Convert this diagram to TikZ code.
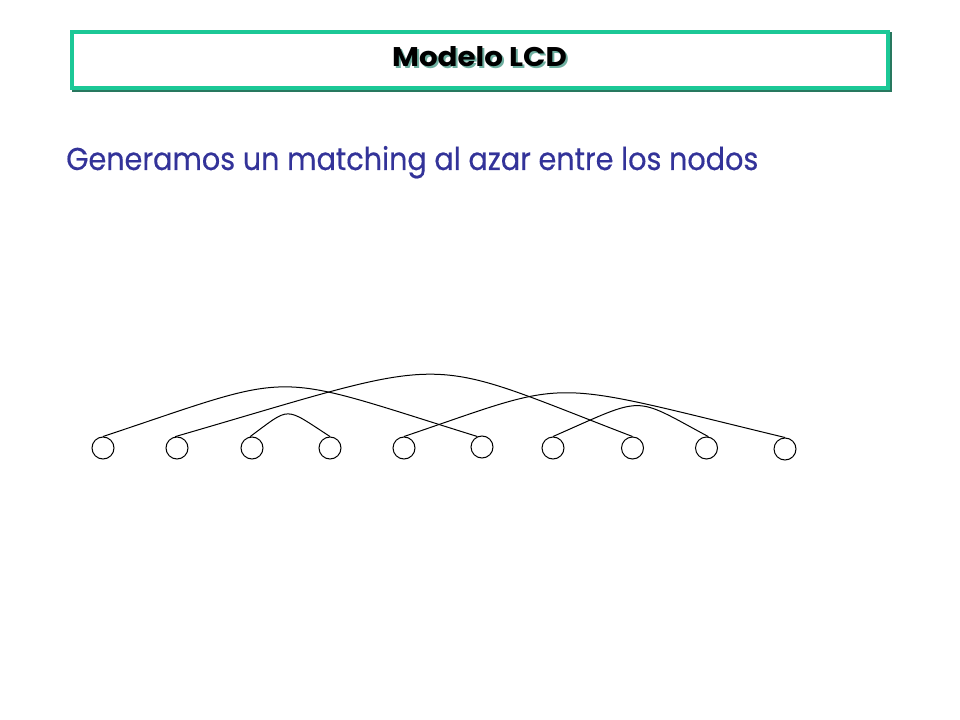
\documentclass[tikz,border=0pt]{standalone}
\usepackage{fontspec}
\setmainfont{Poppins}
\newfontfamily\bodyfont[FakeBold=0.4]{Poppins}
\definecolor{boxgreen}{RGB}{28,200,150}
\definecolor{boxshadow}{RGB}{40,120,95}
\definecolor{textblue}{RGB}{51,51,153}
\definecolor{titleshadow}{RGB}{110,175,160}
\begin{document}
\begin{tikzpicture}[x=0.75pt,y=-0.75pt,
  vertex/.style={circle,draw=black,line width=0.75pt,minimum size=16.5pt,inner sep=0pt},
  matchedge/.style={draw=black,line width=0.75pt},
  titletext/.style={anchor=base,inner sep=0pt}]
\fill[white] (0,0) rectangle (960,720);
\useasboundingbox (0,0) rectangle (960,720);
% title box
\draw[boxshadow,line width=3pt] (74,34.5) rectangle (889.5,90.5);
\draw[boxgreen,line width=3pt,fill=white] (72,32.5) rectangle (887.5,88.5);
\node[titletext,text=titleshadow] (titleshadow) at (481.5,69) {\resizebox{131pt}{15pt}{\bfseries Modelo LCD}};
\node[titletext,text=black] (title) at (479.5,67) {\resizebox{131pt}{15pt}{\bfseries Modelo LCD}};
% body text
\node[anchor=base west,inner sep=0pt,text=textblue] (body) at (66,170) {\resizebox{519pt}{18pt}{\bodyfont Generamos un matching al azar entre los nodos}};
% vertices
\node[vertex] (n1) at (103,448) {};
\node[vertex] (n2) at (177,448) {};
\node[vertex] (n3) at (252,448) {};
\node[vertex] (n4) at (330,448) {};
\node[vertex] (n5) at (404,448) {};
\node[vertex] (n6) at (482,447) {};
\node[vertex] (n7) at (553,448) {};
\node[vertex] (n8) at (632.5,448) {};
\node[vertex] (n9) at (706.5,448) {};
\node[vertex] (n10) at (785,449) {};
% matching edges
\draw[matchedge] (n1.90) .. controls (302,370.3) and (264.6,370.3) .. (n6.114);
\draw[matchedge] (n2.100) .. controls (461.7,353.4) and (416,353.4) .. (n8.90);
\draw[matchedge] (n3.100) .. controls (291.3,406.3) and (283.3,406.3) .. (n4.90);
\draw[matchedge] (n5.90) .. controls (576.7,378) and (538.7,378) .. (n10.90);
\draw[matchedge] (n7.90) .. controls (647,395.3) and (631.4,395.3) .. (n9.80);
\end{tikzpicture}
\end{document}
